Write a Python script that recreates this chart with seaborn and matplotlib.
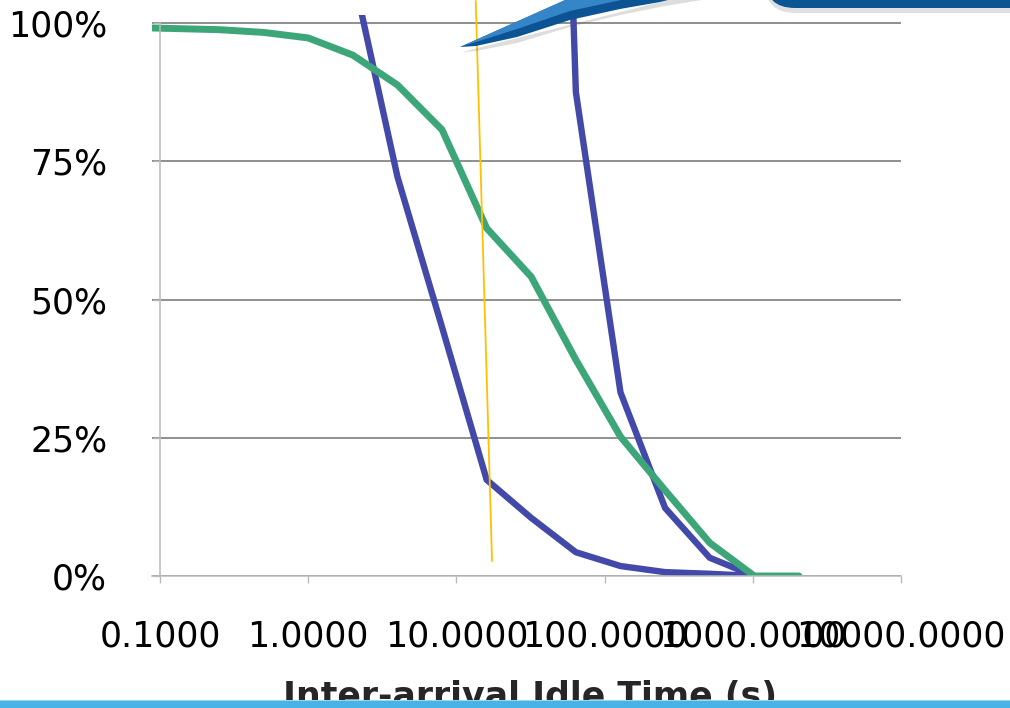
import matplotlib
matplotlib.use("Agg")
import numpy as np
import pandas as pd
import matplotlib.pyplot as plt
from matplotlib.patches import Polygon, FancyBboxPatch, Rectangle
import seaborn as sns

# inter-arrival idle time (s) and fraction of idle periods longer than it
GREEN_X = [0.0625, 0.125, 0.25, 0.5, 1, 2, 4, 8, 16, 32, 64, 128, 256, 512, 1024, 2048]
GREEN_Y = [0.992, 0.990, 0.988, 0.983, 0.973, 0.942, 0.888, 0.807, 0.629, 0.541,
           0.391, 0.252, 0.155, 0.060, 0.0, 0.0]

LEFT_BLUE_X = [2, 4, 8, 16, 32, 64, 128, 256, 512, 1024]
LEFT_BLUE_Y = [1.09, 0.722, 0.45, 0.174, 0.105, 0.043, 0.018, 0.007, 0.004, 0.0]

RIGHT_BLUE_X = [60, 64, 128, 256, 512, 1024]
RIGHT_BLUE_Y = [1.10, 0.875, 0.332, 0.123, 0.033, 0.0]

# hand-drawn marker line
YELLOW_X = [13.5, 17.4]
YELLOW_Y = [1.04, 0.027]

X_TICKS = [0.1, 1, 10, 100, 1000, 10000]
Y_TICKS = [0, 0.25, 0.5, 0.75, 1.0]
Y_LABELS = ["0%", "25%", "50%", "75%", "100%"]

GREEN = "#3DA679"
BLUE = "#4349A9"
YELLOW = "#FFC000"

sns.set_theme(style="white")
plt.rcParams['font.family'] = ['DejaVu Sans']

fig = plt.figure(figsize=(10.1, 7.08), dpi=100)
ax = fig.add_axes([152 / 1010, 132 / 708, 749 / 1010, 561 / 708])

for xs, ys, col, lw in [(RIGHT_BLUE_X, RIGHT_BLUE_Y, BLUE, 4.6),
                        (LEFT_BLUE_X, LEFT_BLUE_Y, BLUE, 4.6),
                        (GREEN_X, GREEN_Y, GREEN, 5.0)]:
    df = pd.DataFrame({"t": xs, "frac": ys})
    sns.lineplot(data=df, x="t", y="frac", color=col, linewidth=lw,
                 estimator=None, sort=False, ax=ax)

sns.lineplot(x=YELLOW_X, y=YELLOW_Y, color=YELLOW, linewidth=1.3,
             estimator=None, sort=False, ax=ax)
ax.lines[-1].set_clip_on(False)

ax.set_xscale("log")
ax.set_xlim(0.0883, 10000)
ax.set_ylim(0, 1.0145)
ax.minorticks_off()
ax.set_xticks(X_TICKS)
ax.set_xticklabels([f"{v:.4f}" for v in X_TICKS])
ax.set_yticks(Y_TICKS)
ax.set_yticklabels(Y_LABELS)
ax.set_xlabel("")
ax.set_ylabel("")

ax.grid(axis="y", color="#878787", linewidth=1.3)
ax.grid(axis="x", visible=False)
ax.set_axisbelow(True)
ax.get_ygridlines()[0].set_visible(False)

for s in ["top", "right"]:
    ax.spines[s].set_visible(False)
ax.spines["left"].set_position(("data", 0.1))
ax.spines["left"].set_bounds(0, 1)
for s in ["left", "bottom"]:
    ax.spines[s].set_color("#BBBBBB")
    ax.spines[s].set_linewidth(1.1)

ax.tick_params(axis="both", which="major", direction="out", length=5,
               width=1, color="#BBBBBB", labelsize=25, labelcolor="black")
ax.tick_params(axis="x", bottom=True, pad=26)
ax.tick_params(axis="y", left=True, pad=33)

# slide decorations (callout shapes, bottom bar)
T = fig.dpi_scale_trans


def pts(coords):
    return [(x / 100, (708 - y) / 100) for x, y in coords]


shadow = Polygon(pts([(462, 52), (476, 51), (517, 43), (570, 27), (620, 15), (665, 6),
                      (720, -3), (680, -3)]),
                 closed=True, transform=T, facecolor="#555555", alpha=0.2,
                 edgecolor="none", zorder=3)
wedge = Polygon(pts([(460, 47), (572, -3), (680, -3), (660, 2), (620, 9), (570, 20),
                     (517, 37), (476, 46)]),
                closed=True, transform=T, facecolor="#0C5394", edgecolor="none", zorder=4)
wedge_hi = Polygon(pts([(460, 47), (572, -3), (635, -3), (570, 11), (517, 29), (476, 42)]),
                   closed=True, transform=T, facecolor="#3586C9", edgecolor="none", zorder=4)
for p in [shadow, wedge, wedge_hi]:
    fig.add_artist(p)

sh = FancyBboxPatch((7.65, (708 - 8 - 5) / 100), 2.8, 0.5,
                    boxstyle="round,pad=0,rounding_size=0.3", transform=T,
                    facecolor="#555555", edgecolor="none", alpha=0.18, zorder=3)
fig.add_artist(sh)
box = FancyBboxPatch((7.65, (708 - 8) / 100), 2.8, 0.5,
                     boxstyle="round,pad=0,rounding_size=0.3", transform=T,
                     facecolor="#0B5593", edgecolor="none", zorder=4)
fig.add_artist(box)

fig.text(5.30, 0.005, "Inter-arrival Idle Time (s)", transform=T, ha="center",
         va="baseline", fontsize=25, fontweight="bold", zorder=5)
fig.add_artist(Rectangle((0, 0), 10.1, 0.08, transform=T, facecolor="#47B3E6",
                         edgecolor="none", zorder=10))
fig.add_artist(Rectangle((0, 0.07), 10.1, 0.012, transform=T, facecolor="#9AD6F2",
                         edgecolor="none", zorder=10))

fig.savefig("out.png", dpi=100)
